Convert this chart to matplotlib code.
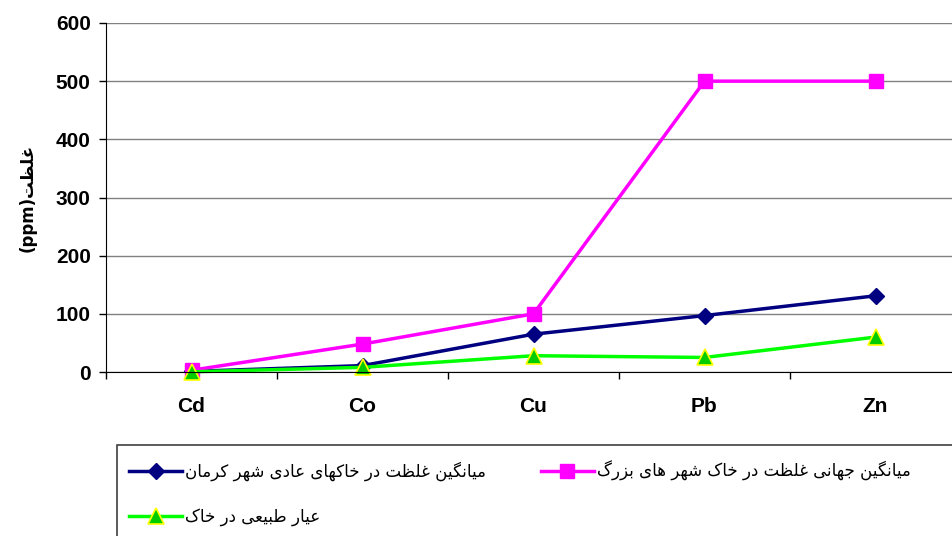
import matplotlib
matplotlib.use("Agg")
import matplotlib.pyplot as plt
from matplotlib.patches import Rectangle

elements = ["Cd", "Co", "Cu", "Pb", "Zn"]
kerman = [1, 11, 65, 97, 131]
world_cities = [3, 48, 100, 500, 500]
natural = [0.3, 8, 28, 25, 60]

label_kerman = "میانگین غلظت در خاکهای عادی شهر کرمان"
label_world = "میانگین جهانی غلظت در خاک شهر های بزرگ"
label_natural = "عیار طبیعی در خاک"
ylabel_word = "غلظت"

# presentation forms: isolated, final, initial, medial
FORMS = {
    "ا": ("\uFE8D", "\uFE8E", None, None),
    "د": ("\uFEA9", "\uFEAA", None, None),
    "ر": ("\uFEAD", "\uFEAE", None, None),
    "ز": ("\uFEAF", "\uFEB0", None, None),
    "ب": ("\uFE8F", "\uFE90", "\uFE91", "\uFE92"),
    "ت": ("\uFE95", "\uFE96", "\uFE97", "\uFE98"),
    "ج": ("\uFE9D", "\uFE9E", "\uFE9F", "\uFEA0"),
    "خ": ("\uFEA5", "\uFEA6", "\uFEA7", "\uFEA8"),
    "ش": ("\uFEB5", "\uFEB6", "\uFEB7", "\uFEB8"),
    "ط": ("\uFEC1", "\uFEC2", "\uFEC3", "\uFEC4"),
    "ظ": ("\uFEC5", "\uFEC6", "\uFEC7", "\uFEC8"),
    "ع": ("\uFEC9", "\uFECA", "\uFECB", "\uFECC"),
    "غ": ("\uFECD", "\uFECE", "\uFECF", "\uFED0"),
    "ل": ("\uFEDD", "\uFEDE", "\uFEDF", "\uFEE0"),
    "م": ("\uFEE1", "\uFEE2", "\uFEE3", "\uFEE4"),
    "ن": ("\uFEE5", "\uFEE6", "\uFEE7", "\uFEE8"),
    "ه": ("\uFEE9", "\uFEEA", "\uFEEB", "\uFEEC"),
    "ی": ("\uFBFC", "\uFBFD", "\uFBFE", "\uFBFF"),
    "ک": ("\uFB8E", "\uFB8F", "\uFB90", "\uFB91"),
    "گ": ("\uFB92", "\uFB93", "\uFB94", "\uFB95"),
}


def shape(text):
    out = []
    for i, ch in enumerate(text):
        if ch not in FORMS:
            out.append(ch)
            continue
        prev = text[i - 1] if i > 0 else ""
        nxt = text[i + 1] if i + 1 < len(text) else ""
        join_prev = prev in FORMS and FORMS[prev][2] is not None
        join_next = FORMS[ch][2] is not None and nxt in FORMS
        if join_prev and join_next:
            out.append(FORMS[ch][3])
        elif join_prev:
            out.append(FORMS[ch][1])
        elif join_next:
            out.append(FORMS[ch][2])
        else:
            out.append(FORMS[ch][0])
    return "".join(out)[::-1]


plt.rcParams["font.family"] = ["DejaVu Sans"]

fig = plt.figure(figsize=(9.52, 5.36), dpi=100)
ax = fig.add_axes([106 / 952, 1 - 372 / 536, 855 / 952, 349 / 536])

x = range(len(elements))
l1, = ax.plot(x, kerman, color="#000080", lw=2.5, marker="D", ms=8,
              mfc="#000080", mec="#000080", label=shape(label_kerman))
l2, = ax.plot(x, world_cities, color="#FF00FF", lw=2.5, marker="s", ms=10,
              mfc="#FF00FF", mec="#FF00FF", label=shape(label_world))
l3, = ax.plot(x, natural, color="#00FF00", lw=2.5, marker="^", ms=11,
              mfc="#00CC00", mec="#FFFF00", mew=1.2, label=shape(label_natural))
for ln in (l1, l2, l3):
    ln.set_clip_on(False)

ax.set_xlim(-0.5, 4.5)
ax.set_ylim(0, 600)
ax.set_yticks(range(0, 601, 100))
ax.set_xticks(x)
ax.set_xticklabels(elements, fontsize=15, fontweight="bold",
                   family="Liberation Sans")
ax.set_xticks([i + 0.5 for i in range(-1, 5)], minor=True)
ax.tick_params(axis="x", which="major", length=0, pad=18)
ax.tick_params(axis="x", which="minor", length=5, direction="out", width=1)
ax.tick_params(axis="y", length=5, direction="out", width=1, pad=6)
for t in ax.get_yticklabels():
    t.set_fontsize(15)
    t.set_fontweight("bold")
    t.set_family("Liberation Sans")

ax.grid(axis="y", color="#808080", lw=1)
ax.set_axisbelow(True)
for s in ("top", "right"):
    ax.spines[s].set_visible(False)
ax.spines["left"].set_color("black")
ax.spines["bottom"].set_color("black")

ax.set_ylabel("(ppm)" + shape(ylabel_word), fontsize=12, fontweight="bold",
              labelpad=14)

fig.patches.append(Rectangle((117 / 952, -0.01), 0.9, 1 - 445 / 536 + 0.01,
                             transform=fig.transFigure, fill=False,
                             edgecolor="#404040", lw=1.2))
# ncol=2 fills by column, so order handles for row-wise reading
fig.legend(handles=[l1, l3, l2], ncol=2, loc="upper left",
           bbox_to_anchor=(114 / 952, 1 - 446 / 536), frameon=False,
           fontsize=12, handlelength=3.2, handletextpad=0.15,
           columnspacing=3.3, labelspacing=1.6)

fig.savefig("out.png", dpi=100)
